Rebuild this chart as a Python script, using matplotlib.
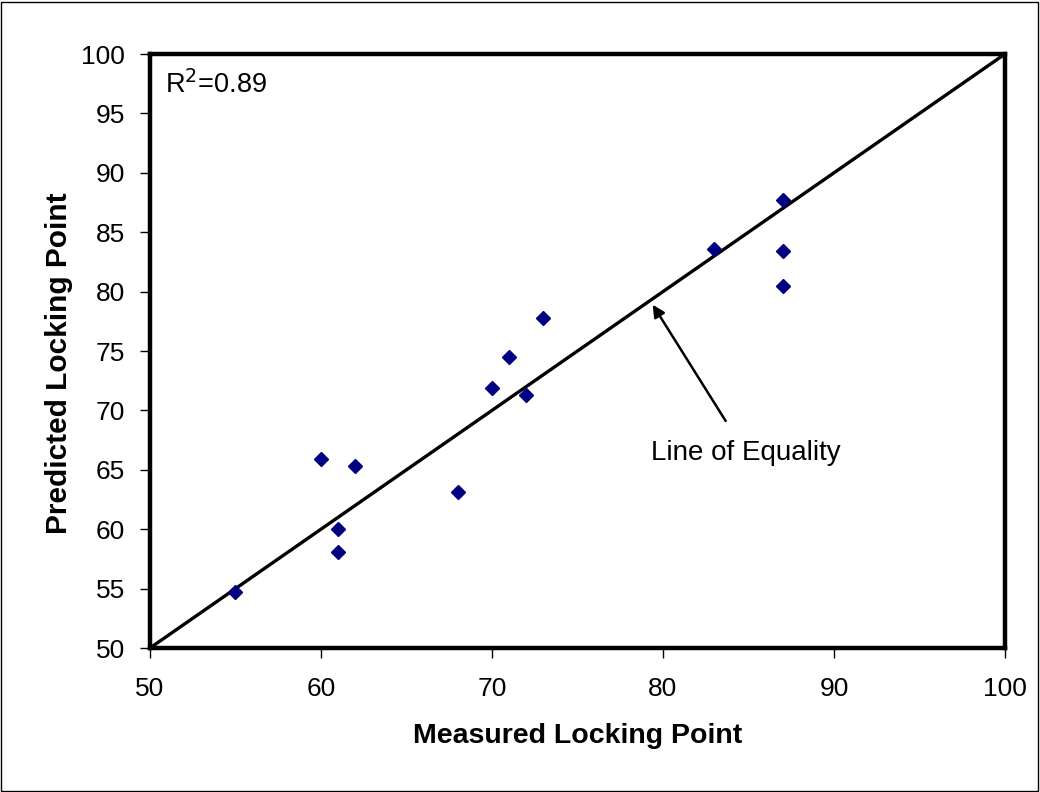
import matplotlib
matplotlib.use('Agg')
import matplotlib.pyplot as plt
from matplotlib.patches import Rectangle

# Datos
medido = [55, 60, 61, 61, 62, 68, 70, 71, 72, 73, 83, 87, 87, 87]
predicho = [54.7, 65.9, 60.0, 58.1, 65.3, 63.1, 71.9, 74.5, 71.3, 77.8, 83.6, 87.7, 83.4, 80.5]
linea_igualdad = [50, 100]
r2 = 0.89

plt.rcParams['font.family'] = ['Liberation Sans', 'DejaVu Sans']

fig = plt.figure(figsize=(10.4, 7.92), dpi=100)
ax = fig.add_axes([0.1442, 0.1818, 0.8221, 0.75])

# Línea de igualdad y puntos
ax.plot(linea_igualdad, linea_igualdad, color='black', linewidth=2.4, zorder=2)
ax.plot(medido, predicho, 'D', color='#000080', markersize=7.5, zorder=3)

ax.set_xlim(50, 100)
ax.set_ylim(50, 100)
ax.set_xticks(range(50, 101, 10))
ax.set_yticks(range(50, 101, 5))
ax.tick_params(direction='out', length=7, width=1, labelsize=19)
ax.tick_params(axis='x', pad=14)
ax.tick_params(axis='y', pad=11)

for s in ax.spines.values():
    s.set_linewidth(3.2)

ax.set_xlabel('Measured Locking Point', fontsize=20.5, fontweight='bold', labelpad=16)
ax.set_ylabel('Predicted Locking Point', fontsize=21.5, fontweight='bold', labelpad=6)
ax.yaxis.label.set_y(0.48)

ax.text(50.9, 97.4, f'R$^2$={r2}', fontsize=19.5, va='center', ha='left')

ax.annotate('Line of Equality', xy=(79.4, 78.9), xytext=(84.85, 66.4),
            fontsize=20, ha='center', va='center',
            arrowprops=dict(arrowstyle='-|>', color='black', lw=1.8,
                            mutation_scale=18, shrinkA=14, shrinkB=0))

# Borde exterior de la figura
fig.patches.append(Rectangle((0.001, 0.001), 0.997, 0.997, transform=fig.transFigure,
                             fill=False, edgecolor='black', linewidth=1))

fig.savefig('out.png', dpi=100)
